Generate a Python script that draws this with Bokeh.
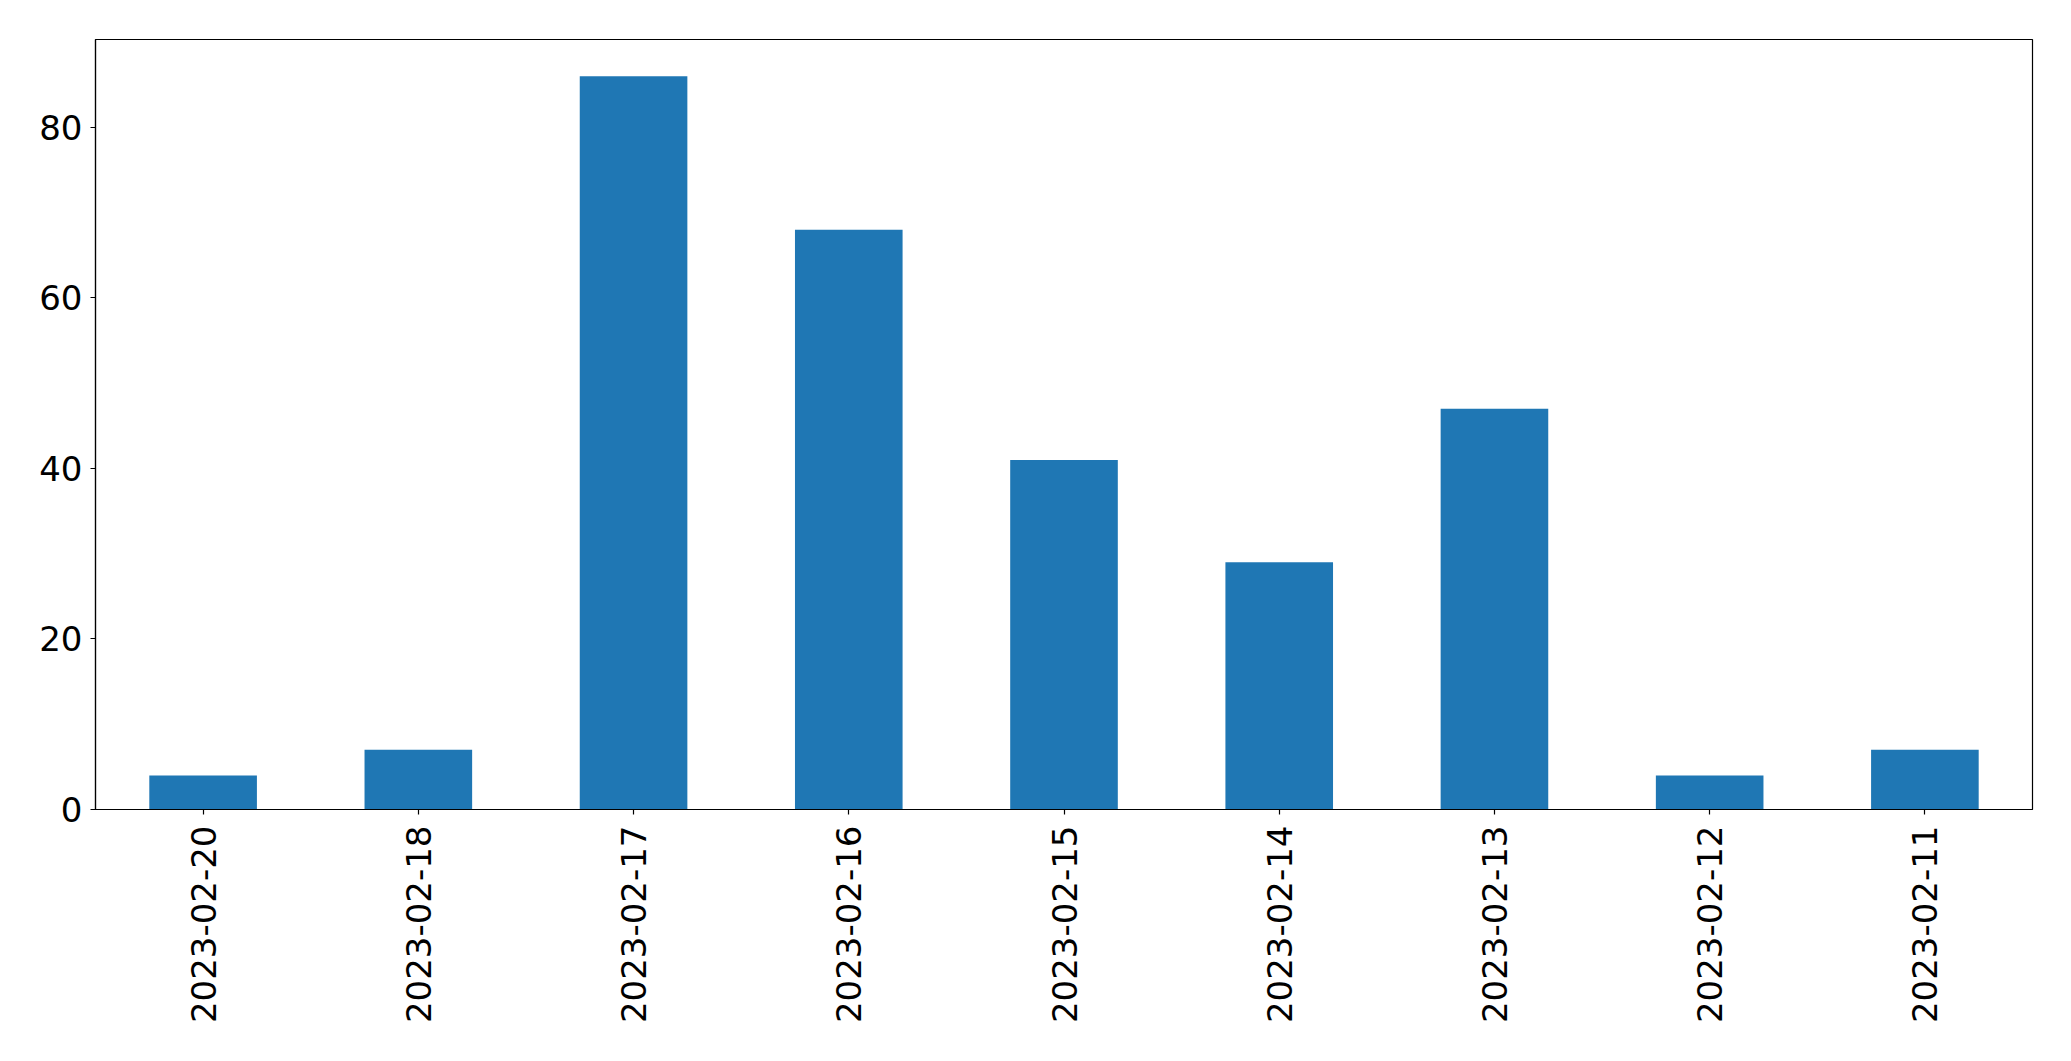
import math
from bokeh.plotting import figure
from bokeh.models import FactorRange, Range1d, FixedTicker
from bokeh.embed import file_html
from bokeh.resources import INLINE

dates = ["2023-02-20", "2023-02-18", "2023-02-17", "2023-02-16", "2023-02-15",
         "2023-02-14", "2023-02-13", "2023-02-12", "2023-02-11"]
counts = [4, 7, 86, 68, 41, 29, 47, 4, 7]
y_ticks = [0, 20, 40, 60, 80]

p = figure(width=2055, height=1045, x_range=FactorRange(*dates),
           y_range=Range1d(0, max(counts) * 1.05),
           output_backend="svg", toolbar_location=None,
           min_border_left=95, min_border_top=39, min_border_right=23, min_border_bottom=236)

p.vbar(x=dates, top=counts, width=0.5, color="#1f77b4", line_color=None)

p.xgrid.visible = False
p.ygrid.visible = False
p.outline_line_color = "black"
p.outline_line_width = 1.2
p.outline_line_alpha = 1

for ax in (p.xaxis[0], p.yaxis[0]):
    ax.axis_line_color = "black"
    ax.axis_line_width = 1.2
    ax.major_tick_line_color = "black"
    ax.major_tick_line_width = 1.2
    ax.major_tick_out = 5
    ax.major_tick_in = 0
    ax.minor_tick_line_color = None
    ax.major_label_text_font = "DejaVu Sans"
    ax.major_label_text_font_size = "34px"
    ax.major_label_text_color = "black"

p.yaxis[0].ticker = FixedTicker(ticks=y_ticks)
p.yaxis[0].major_label_standoff = 8
p.xaxis[0].major_label_orientation = math.pi / 2
p.xaxis[0].major_label_standoff = 11

open("out.html", "w").write(file_html(p, INLINE))
